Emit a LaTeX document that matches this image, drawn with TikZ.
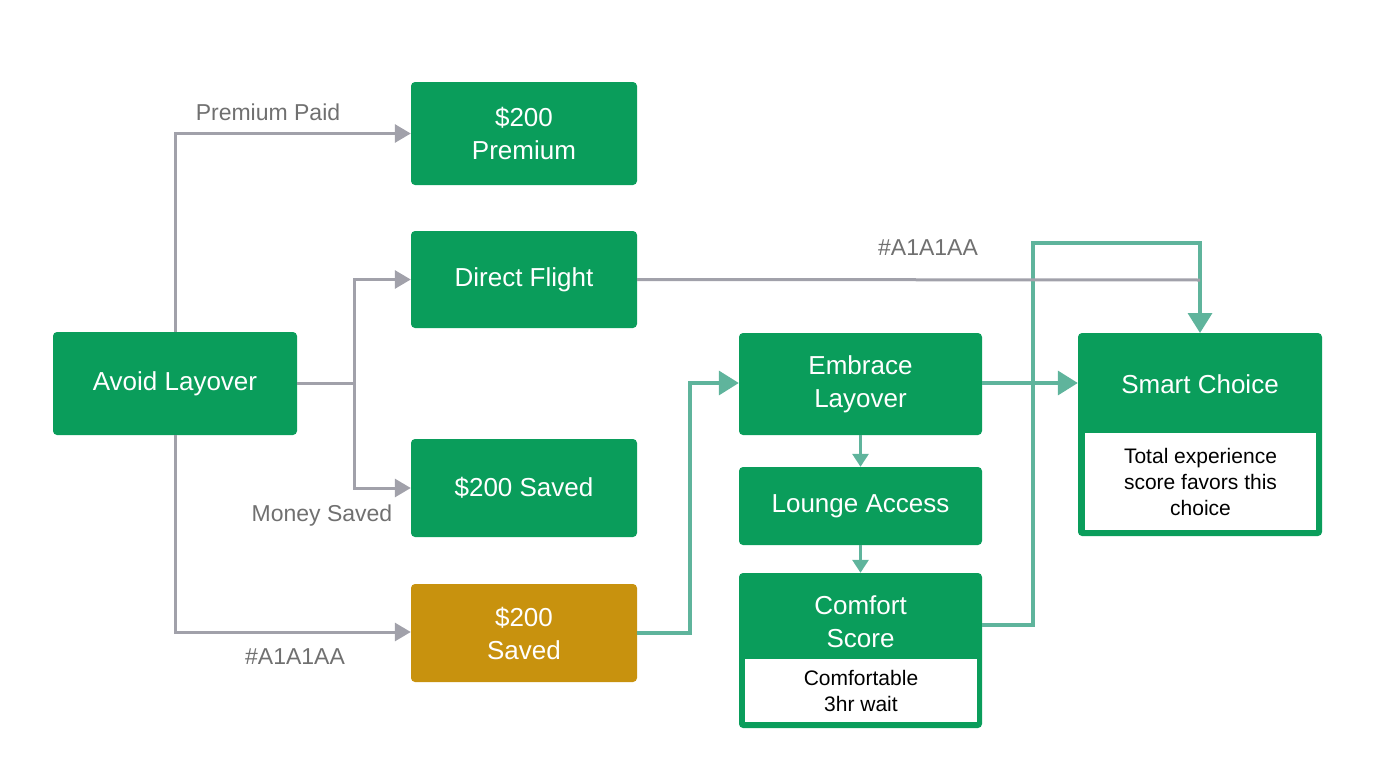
\documentclass[tikz,border=0pt]{standalone}
\usepackage{fontspec}
\setmainfont{Liberation Sans}
\usetikzlibrary{arrows.meta}
\definecolor{gr}{HTML}{0A9D5B}
\definecolor{gold}{HTML}{C8920E}
\definecolor{ln}{HTML}{A1A1AA}
\definecolor{tl}{HTML}{5FB49C}
\definecolor{lbl}{HTML}{707070}
\begin{document}
\begin{tikzpicture}[x=1pt,y=-1pt,
 box/.style={fill=#1,rounded corners=4pt,text=white,align=center,font=\fontsize{26}{33}\selectfont,inner sep=0pt},
 wbox/.style={fill=white,align=center,font=\fontsize{21}{26}\selectfont,inner sep=0pt,text=black},
 gl/.style={draw=ln,line width=3pt,-{Triangle[length=16pt,width=18pt]}},
 tlin/.style={draw=tl,line width=3.5pt,-{Triangle[length=20pt,width=24pt]}},
 sm/.style={draw=tl,line width=3pt,-{Triangle[length=13pt,width=16pt]}},
 lab/.style={text=lbl,font=\fontsize{23}{27}\selectfont}]
\useasboundingbox (0,0) rectangle (1376,768);
\node[box=gr,minimum width=244pt,minimum height=103pt] (avoid) at (175,383.5) {Avoid Layover};
\node[box=gr,minimum width=226pt,minimum height=103pt] (prem) at (524,133.5) {\$200\\Premium};
\node[box=gr,minimum width=226pt,minimum height=97pt] (direct) at (524,279.5) {Direct Flight};
\node[box=gr,minimum width=226pt,minimum height=98pt] (saved) at (524,488) {\$200 Saved};
\node[box=gold,minimum width=226pt,minimum height=98pt] (gsaved) at (524,633) {\$200\\Saved};
\node[box=gr,minimum width=243pt,minimum height=102pt] (embrace) at (860.5,384) {Embrace\\Layover};
\node[box=gr,minimum width=243pt,minimum height=78pt] (lounge) at (860.5,506) {Lounge Access};
\node[box=gr,minimum width=243pt,minimum height=155pt] (comfort) at (860.5,650.5) {};
\node[text=white,align=center,font=\fontsize{26}{33}\selectfont] (ctitle) at (860.5,622) {Comfort\\Score};
\node[wbox,minimum width=232pt,minimum height=63pt] (cw) at (861,690.5) {Comfortable\\3hr wait};
\node[box=gr,minimum width=244pt,minimum height=203pt] (smart) at (1200,434.5) {};
\node[text=white,font=\fontsize{26}{33}\selectfont] (stitle) at (1200,384) {Smart Choice};
\node[wbox,minimum width=231pt,minimum height=97pt] (sw) at (1200.5,481.5) {Total experience\\score favors this\\choice};
% teal connectors
\draw[tlin] (comfort.east|-0,625) -| (1033,243) -| (1200,333);
\draw[tlin] (gsaved.east) -| (690,383) -- (embrace.west|-0,383);
\draw[tlin] (embrace.east|-0,383) -- (smart.west|-0,383);
\draw[sm] (embrace.south) -- (lounge.north);
\draw[sm] (lounge.south) -- (comfort.north);
% grey connectors
\draw[draw=ln,line width=3pt] (direct.east) -- (1200,280);
\draw[gl] (avoid.north) |- (prem.west);
\draw[gl] (avoid.east) -- (354,383.5) |- (direct.west);
\draw[gl] (354,383.5) |- (saved.west);
\draw[gl] (avoid.south) |- (gsaved.west|-0,632);
\node[lab] (l1) at (268,112) {Premium Paid};
\node[lab] (l2) at (322,516) {Money Saved};
\node[lab] (l3) at (295,657) {\#A1A1AA};
\node[lab] (l4) at (928,248) {\#A1A1AA};
\end{tikzpicture}
\end{document}
